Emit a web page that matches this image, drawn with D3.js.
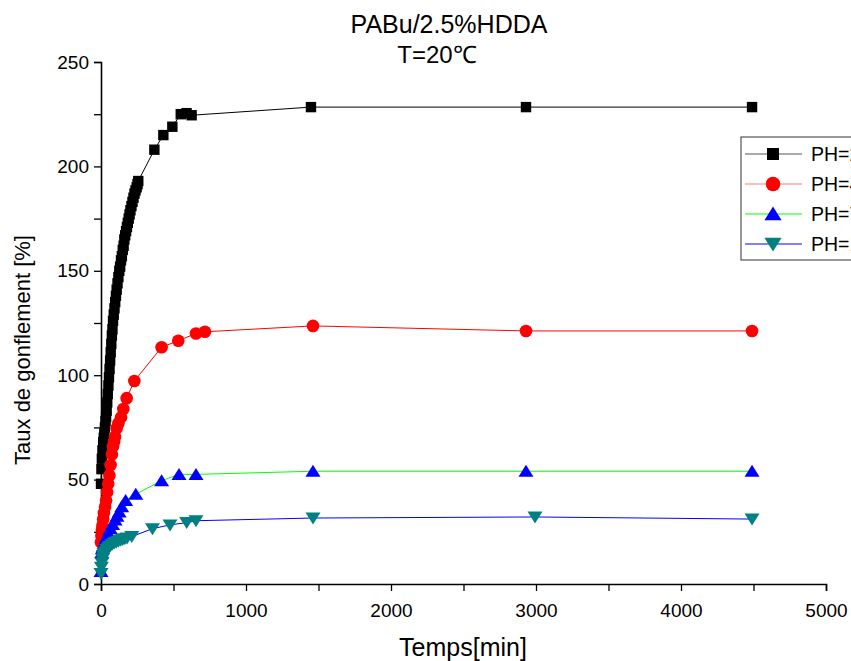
<!DOCTYPE html>
<html>
<head>
<meta charset="utf-8">
<script src="https://cdn.jsdelivr.net/npm/d3@7"></script>
<style>
  body { margin: 0; background: #fff; }
  text { font-family: "Liberation Sans", Arial, sans-serif; }
</style>
</head>
<body>
<script>
// swelling data (time in min, swelling in %)
const t1 = [0, 3, 6, 10, 15, 19, 23, 27, 31, 35, 39, 43, 47, 51, 55, 59, 63, 67, 71, 75, 79, 83, 88, 93, 98, 103, 108, 114, 120, 126, 132, 138, 144, 150, 156, 161, 167, 173, 179, 185, 191, 197, 203, 210, 217, 224, 231, 238, 246, 252, 257, 368, 430, 492, 550, 590, 625, 1448, 2931, 4490]
const y1 = [48, 55, 60, 64, 68, 70, 72, 75, 78, 80, 83, 87, 91, 95, 99, 103, 107, 111, 115, 119, 122, 126, 129, 132, 135, 138, 141, 144, 147, 150, 152, 155, 157, 160, 162, 165, 167, 169, 171, 173, 175, 177, 179, 181, 183, 185, 187, 188.5, 190, 191.5, 193, 208, 215, 219, 225, 225.5, 224.5, 228.4, 228.4, 228.4]

const t2 = [0, 3, 6, 10, 15, 20, 28, 35, 42, 50, 58, 66, 75, 83, 90, 97, 108, 120, 138, 154, 177, 230, 418, 533, 655, 717, 1462, 2931, 4490]
const y2 = [20, 23, 26, 28, 31, 34, 37, 40, 44, 48, 52, 57, 62, 66, 68, 70.5, 74.6, 77, 79.8, 83.8, 89, 97.2, 113.4, 116.5, 120, 120.8, 123.6, 121.2, 121.2]

const t3 = [0, 5, 10, 16, 25, 35, 50, 65, 80, 97, 110, 125, 143, 170, 240, 418, 538, 655, 1462, 2931, 4490]
const y3 = [6, 15, 17, 18, 20, 22, 24.3, 26.5, 28.5, 30.6, 32.5, 34.5, 37, 40, 43, 49.5, 52.5, 52.5, 54, 54, 54]

const t4 = [0, 3, 6, 10, 15, 20, 30, 40, 50, 60, 75, 90, 105, 120, 135, 150, 165, 180, 212, 355, 476, 591, 655, 1462, 2993, 4490]
const y4 = [5, 8, 10, 12, 13.5, 14.5, 15.5, 16.5, 17.2, 18, 18.8, 19.5, 20, 20.5, 21, 21.3, 21.7, 22, 22.7, 26.5, 28.3, 29.4, 30.3, 31.6, 32.1, 31.1]

const legendLabels = ["PH=2", "PH=4", "PH=7", "PH=10"]
const xTicks = d3.range(0, 5001, 500)
const yTicks = d3.range(0, 251, 25)

const series = [
    {t: t1, v: y1, shape: "square", fill: "#000", line: "#000", legLine: "#555"},
    {t: t2, v: y2, shape: "circle", fill: "#ff0000", line: "#ff0000", legLine: "#f77"},
    {t: t3, v: y3, shape: "up", fill: "#0000ff", line: "#00ff00", legLine: "#00ff00"},
    {t: t4, v: y4, shape: "down", fill: "#008080", line: "#0000ff", legLine: "#0000ff"},
]

const W = 851, H = 661
const svg = d3.select("body").append("svg")
    .attr("width", W)
    .attr("height", H)

const x = d3.scaleLinear().domain([0, 5000]).range([101, 826])
const y = d3.scaleLinear().domain([0, 250]).range([584, 62])

function markerPath(shape) {
    if (shape === "square") return "M-5.2,-5.2H5.2V5.2H-5.2Z"
    if (shape === "circle") return d3.symbol(d3.symbolCircle, 125)()
    if (shape === "up") return "M0,-6.5L7.5,5.5L-7.5,5.5Z"
    return "M0,6.5L7.5,-5.5L-7.5,-5.5Z"
}

// axes
const yAxis = d3.axisLeft(y)
    .tickValues(yTicks)
    .tickSize(7)
    .tickPadding(5)
    .tickFormat(d => d % 50 === 0 ? d : "")

const xAxis = d3.axisBottom(x)
    .tickValues(xTicks)
    .tickSize(7)
    .tickPadding(13)
    .tickFormat(d => d % 1000 === 0 ? d : "")

const gy = svg.append("g").attr("transform", "translate(101,0)").call(yAxis)
const gx = svg.append("g").attr("transform", "translate(0,584)").call(xAxis)

for (const g of [gx, gy]) {
    g.select(".domain").attr("stroke", "#000").attr("stroke-width", 1.6)
    g.selectAll(".tick line").attr("stroke", "#000").attr("stroke-width", 1.3)
    g.selectAll(".tick text")
        .attr("fill", "#000")
        .style("font-size", "19px")
        .style("font-family", "'Liberation Sans', Arial, sans-serif")
}

// plot series
const lineGen = d3.line().x(d => x(d[0])).y(d => y(d[1]))

series.forEach(s => {
    const pts = s.t.map((t, i) => [t, s.v[i]])
    const g = svg.append("g")
    g.append("path")
        .attr("d", lineGen(pts))
        .attr("fill", "none")
        .attr("stroke", s.line)
        .attr("stroke-width", 1)
    g.selectAll("path.mk")
        .data(pts)
        .join("path")
        .attr("class", "mk")
        .attr("d", markerPath(s.shape))
        .attr("transform", d => `translate(${x(d[0])},${y(d[1])})`)
        .attr("fill", s.fill)
})

// titles
svg.append("text")
    .attr("x", 449).attr("y", 33)
    .attr("text-anchor", "middle")
    .style("font-size", "25px")
    .text("PABu/2.5%HDDA")

svg.append("text")
    .attr("x", 437).attr("y", 63)
    .attr("text-anchor", "middle")
    .style("font-size", "24px")
    .text("T=20℃")

svg.append("text")
    .attr("x", 463).attr("y", 656)
    .attr("text-anchor", "middle")
    .style("font-size", "25px")
    .text("Temps[min]")

svg.append("text")
    .attr("transform", "translate(30,350) rotate(-90)")
    .attr("text-anchor", "middle")
    .style("font-size", "22px")
    .text("Taux de gonflement [%]")

// legend (runs past the right edge, as in the original)
const leg = svg.append("g")
leg.append("rect")
    .attr("x", 741).attr("y", 137)
    .attr("width", 200).attr("height", 123)
    .attr("fill", "#fff")
    .attr("stroke", "#333")
    .attr("stroke-width", 1)

const legY = [154, 184, 214, 244]
series.forEach((s, i) => {
    leg.append("line")
        .attr("x1", 745).attr("x2", 802)
        .attr("y1", legY[i]).attr("y2", legY[i])
        .attr("stroke", s.legLine)
        .attr("stroke-width", 1)
    leg.append("path")
        .attr("d", markerPath(s.shape))
        .attr("transform", `translate(773,${legY[i]}) scale(1.15)`)
        .attr("fill", s.fill)
    leg.append("text")
        .attr("x", 811).attr("y", legY[i] + 7)
        .style("font-size", "19.5px")
        .text(legendLabels[i])
})
</script>
</body>
</html>
